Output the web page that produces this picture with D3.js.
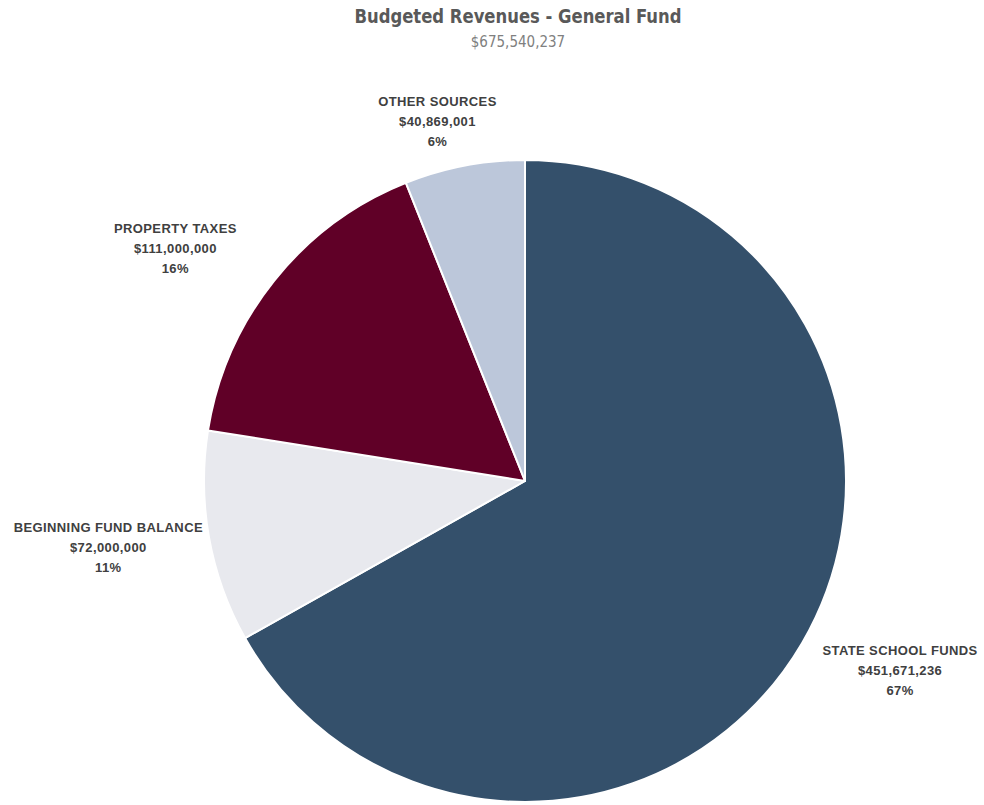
<!DOCTYPE html>
<html>
<head>
<meta charset="utf-8">
<script src="https://cdn.jsdelivr.net/npm/d3@7"></script>
<style>
  html, body { margin: 0; padding: 0; background: #ffffff; }
  svg { display: block; }
</style>
</head>
<body>
<script>
// Revenue sources, listed clockwise from 12 o'clock
const categories = ["STATE SCHOOL FUNDS", "BEGINNING FUND BALANCE", "PROPERTY TAXES", "OTHER SOURCES"];
const amounts = [451671236, 72000000, 111000000, 40869001];
const percentLabels = ["67%", "11%", "16%", "6%"];
const sliceColors = ["#34506b", "#e8e9ee", "#600027", "#bcc7da"];

const chartTitle = "Budgeted Revenues - General Fund";
const chartSubtitle = "$675,540,237";

// Label placement: angular shift (deg) from the slice mid-angle and distance from centre
const labelLayout = [
  { shift: -3.6, dist: 420 },
  { shift: 1.0, dist: 422 },
  { shift: -5.0, dist: 420 },
  { shift: -2.8, dist: 370 }
];

const W = 984, H = 805;
const cx = 525, cy = 481, radius = 321;

const svg = d3.select("body").append("svg")
  .attr("width", W).attr("height", H);

svg.append("text")
  .attr("x", 518).attr("y", 23)
  .attr("text-anchor", "middle")
  .attr("font-family", "'Liberation Sans Narrow', 'DejaVu Sans Condensed', sans-serif")
  .attr("font-weight", "bold")
  .attr("font-size", 20)
  .attr("textLength", 327)
  .attr("lengthAdjust", "spacingAndGlyphs")
  .attr("fill", "#595959")
  .text(chartTitle);

svg.append("text")
  .attr("x", 518).attr("y", 47)
  .attr("text-anchor", "middle")
  .attr("font-family", "'Liberation Sans Narrow', 'DejaVu Sans Condensed', sans-serif")
  .attr("font-size", 15)
  .attr("fill", "#808080")
  .text(chartSubtitle);

const data = categories.map((c, i) => ({
  name: c, value: amounts[i], pct: percentLabels[i], color: sliceColors[i], layout: labelLayout[i]
}));

const pie = d3.pie().value(d => d.value).sort(null);
const arc = d3.arc().innerRadius(0).outerRadius(radius);
const arcs = pie(data);

const g = svg.append("g").attr("transform", `translate(${cx},${cy})`);

g.selectAll("path.slice")
  .data(arcs)
  .join("path")
  .attr("class", "slice")
  .attr("d", arc)
  .attr("fill", d => d.data.color)
  .attr("stroke", "#ffffff")
  .attr("stroke-width", 2)
  .attr("stroke-linejoin", "round");

const fmt = d3.format("$,");

const labels = g.selectAll("g.label")
  .data(arcs)
  .join("g")
  .attr("class", "label")
  .attr("transform", d => {
    const a = (d.startAngle + d.endAngle) / 2 + d.data.layout.shift * Math.PI / 180;
    const x = Math.sin(a) * d.data.layout.dist;
    const y = -Math.cos(a) * d.data.layout.dist;
    return `translate(${x},${y})`;
  });

labels.each(function(d) {
  const t = d3.select(this).append("text")
    .attr("text-anchor", "middle")
    .attr("font-family", "'Liberation Sans', Arial, sans-serif")
    .attr("font-weight", "bold")
    .attr("font-size", 13)
    .attr("letter-spacing", 0.4)
    .attr("fill", "#404040");
  const lines = [d.data.name, fmt(d.data.value), d.data.pct];
  lines.forEach((s, i) => {
    t.append("tspan").attr("x", 0).attr("y", (i - 1) * 20 + 4.5).text(s);
  });
});
</script>
</body>
</html>
